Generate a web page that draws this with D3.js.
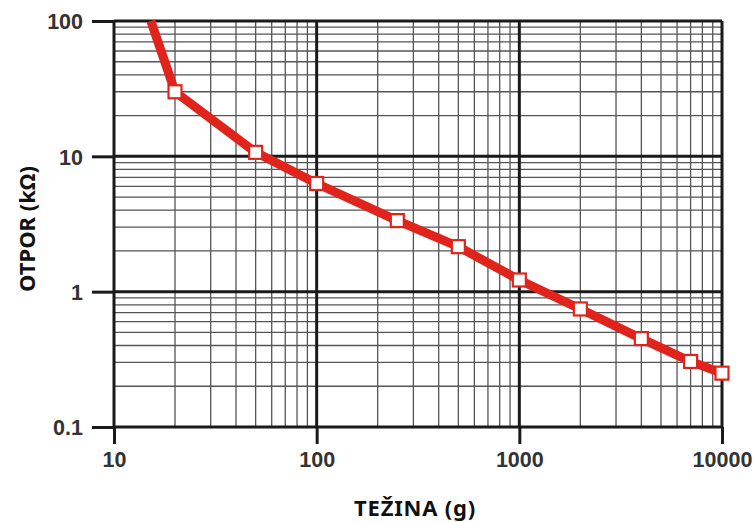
<!DOCTYPE html>
<html>
<head>
<meta charset="utf-8">
<script src="https://cdn.jsdelivr.net/npm/d3@7"></script>
<style>
  html, body { margin: 0; padding: 0; background: #fff; }
  svg { display: block; }
</style>
</head>
<body>
<svg id="chart" width="756" height="522"></svg>
<script>
// ---- data ----
const weights    = [15.2, 20, 50, 100, 250, 500, 1000, 2000, 4000, 7000, 10000];   // g
const resistance = [100, 30, 10.7, 6.3, 3.35, 2.15, 1.22, 0.745, 0.45, 0.305, 0.25]; // kΩ
const markerFrom = 1; // first point is where the curve leaves the top edge (no marker)
const xTicks = [10, 100, 1000, 10000];
const yTicks = [0.1, 1, 10, 100];
const xTickLabels = ["10", "100", "1000", "10000"];
const yTickLabels = ["0.1", "1", "10", "100"];
const xTitle = "TEŽINA (g)";
const yTitle = "OTPOR (kΩ)";

// ---- layout ----
const W = 756, H = 522;
const m = { left: 114, right: 34, top: 21, bottom: 95 };
const svg = d3.select("#chart");

const x = d3.scaleLog().domain([10, 10000]).range([m.left, W - m.right]);
const y = d3.scaleLog().domain([0.1, 100]).range([H - m.bottom, m.top]);

// minor grid values
const minorX = [], minorY = [];
[10, 100, 1000].forEach(d => { for (let k = 2; k <= 9; k++) minorX.push(d * k); });
[0.1, 1, 10].forEach(d => { for (let k = 2; k <= 9; k++) minorY.push(d * k); });

const grid = svg.append("g");
grid.selectAll(".mx").data(minorX).join("line")
  .attr("x1", d => x(d)).attr("x2", d => x(d))
  .attr("y1", y(0.1)).attr("y2", y(100))
  .attr("stroke", "#555").attr("stroke-width", 1.3);
grid.selectAll(".my").data(minorY).join("line")
  .attr("y1", d => y(d)).attr("y2", d => y(d))
  .attr("x1", x(10)).attr("x2", x(10000))
  .attr("stroke", "#555").attr("stroke-width", 1.3);
grid.selectAll(".Mx").data(xTicks).join("line")
  .attr("x1", d => x(d)).attr("x2", d => x(d))
  .attr("y1", y(0.1)).attr("y2", y(100))
  .attr("stroke", "#1a1a1a").attr("stroke-width", 3);
grid.selectAll(".My").data(yTicks).join("line")
  .attr("y1", d => y(d)).attr("y2", d => y(d))
  .attr("x1", x(10)).attr("x2", x(10000))
  .attr("stroke", "#1a1a1a").attr("stroke-width", 3);

// axes
const fontFam = "'Liberation Sans', Arial, Helvetica, sans-serif";
const titleFam = "'Noto Sans', 'Open Sans', sans-serif";
const xAxis = d3.axisBottom(x).tickValues(xTicks)
  .tickFormat((d, i) => xTickLabels[i]).tickSizeInner(17).tickSizeOuter(0).tickPadding(9);
const yAxis = d3.axisLeft(y).tickValues(yTicks)
  .tickFormat((d, i) => yTickLabels[i]).tickSizeInner(22).tickSizeOuter(0).tickPadding(9);

const gx = svg.append("g").attr("transform", `translate(0,${H - m.bottom})`).call(xAxis);
const gy = svg.append("g").attr("transform", `translate(${m.left},0)`).call(yAxis);
[gx, gy].forEach(g => {
  g.select(".domain").remove();
  g.selectAll(".tick line").attr("stroke", "#1a1a1a").attr("stroke-width", 3);
  g.selectAll(".tick text").attr("fill", "#333").attr("font-family", fontFam)
    .attr("font-size", 21.5).attr("font-weight", "bold");
});
gy.selectAll(".tick text").attr("dy", "0.36em");
gx.selectAll(".tick text").attr("dy", "0.66em");

// curve
const pts = weights.map((w, i) => [w, resistance[i]]);
const line = d3.line().x(d => x(d[0])).y(d => y(d[1]));
svg.append("path").datum(pts)
  .attr("d", line)
  .attr("fill", "none")
  .attr("stroke", "#e0241c")
  .attr("stroke-width", 9)
  .attr("stroke-linejoin", "round")
  .attr("stroke-linecap", "butt");

const s = 13;
svg.selectAll(".mk").data(pts.slice(markerFrom)).join("rect")
  .attr("x", d => x(d[0]) - s / 2).attr("y", d => y(d[1]) - s / 2)
  .attr("width", s).attr("height", s)
  .attr("fill", "#fff").attr("stroke", "#e0241c").attr("stroke-width", 2.2);

// titles
svg.append("text")
  .attr("x", 415).attr("y", 516)
  .attr("text-anchor", "middle")
  .attr("font-family", titleFam).attr("font-size", 22).attr("font-weight", "bold")
  .attr("letter-spacing", 0.8)
  .attr("fill", "#111")
  .text(xTitle);
svg.append("text")
  .attr("transform", "translate(35,229) rotate(-90)")
  .attr("text-anchor", "middle")
  .attr("font-family", titleFam).attr("font-size", 22).attr("font-weight", "bold")
  .attr("fill", "#111")
  .text(yTitle);
</script>
</body>
</html>
